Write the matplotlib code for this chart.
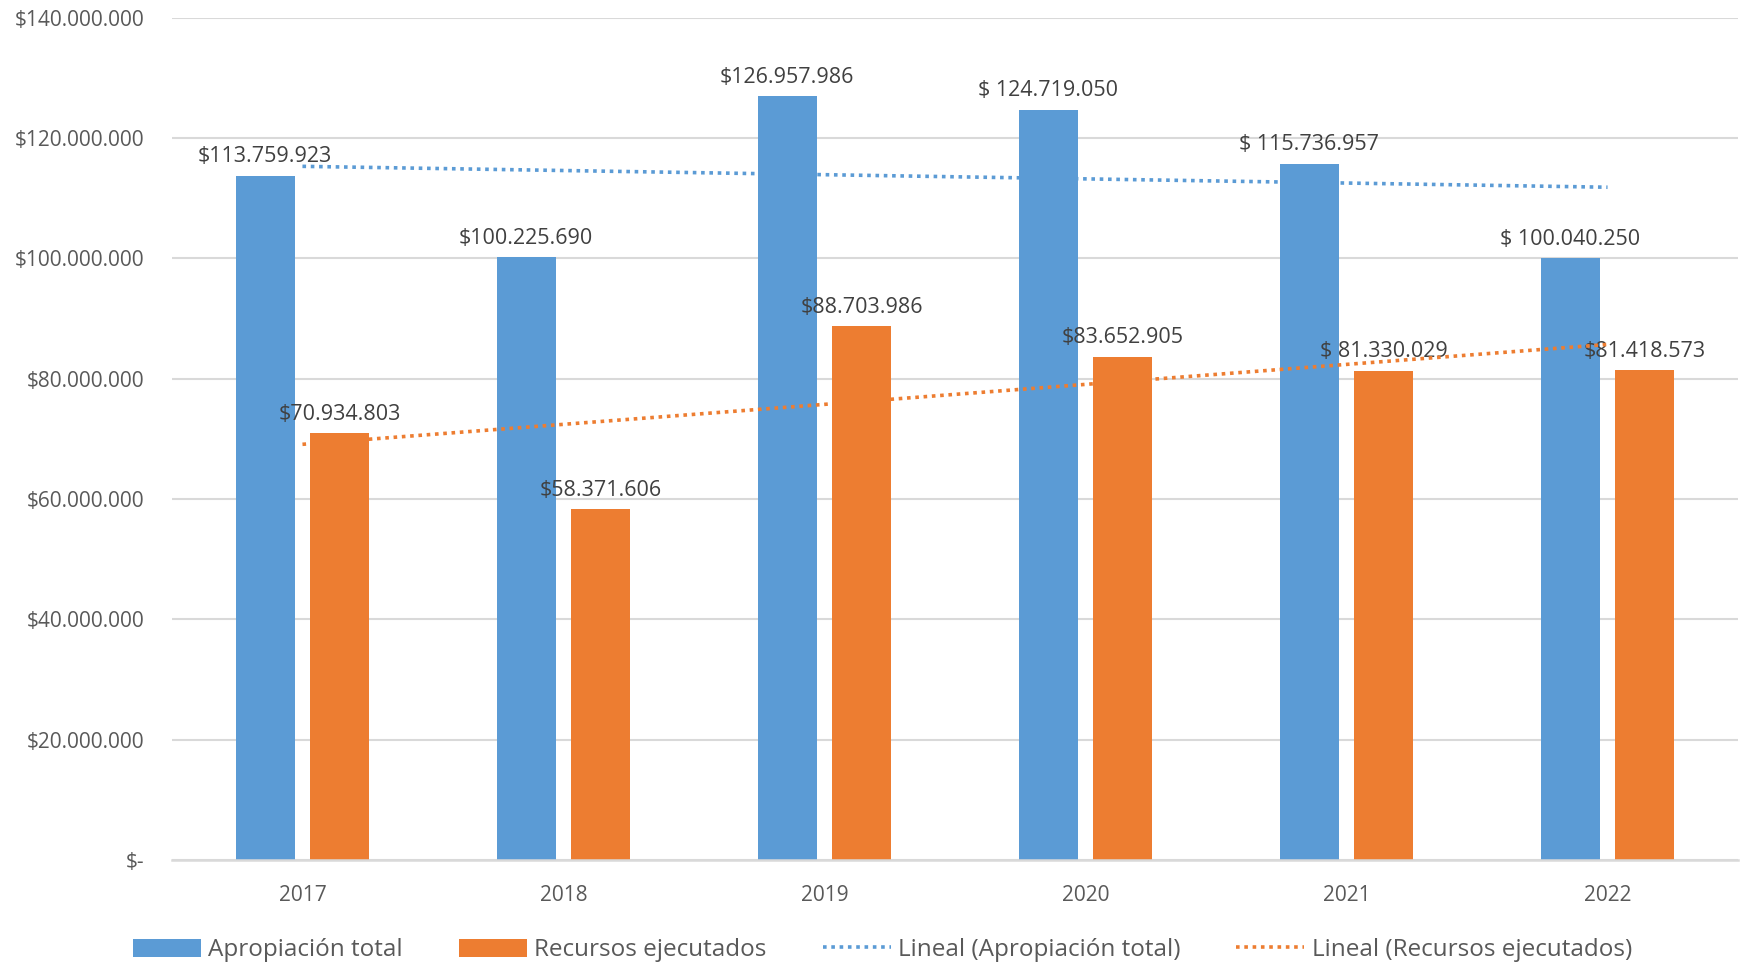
import matplotlib.pyplot as plt
import numpy as np

plt.rcParams["font.family"] = ["Open Sans", "DejaVu Sans"]

years = ["2017", "2018", "2019", "2020", "2021", "2022"]
apropiacion = [113759923, 100225690, 126957986, 124719050, 115736957, 100040250]
ejecutados = [70934803, 58371606, 88703986, 83652905, 81330029, 81418573]
labels_apropiacion = ["$113.759.923", "$100.225.690", "$126.957.986",
                      "$ 124.719.050", "$ 115.736.957", "$ 100.040.250"]
labels_ejecutados = ["$70.934.803", "$58.371.606", "$88.703.986",
                     "$83.652.905", "$ 81.330.029", "$81.418.573"]
ytick_values = [0, 20e6, 40e6, 60e6, 80e6, 100e6, 120e6, 140e6]
ytick_labels = ["$-", "$20.000.000", "$40.000.000", "$60.000.000",
                "$80.000.000", "$100.000.000", "$120.000.000", "$140.000.000"]

BLUE = "#5B9BD5"
ORANGE = "#ED7D31"
GRID = "#D9D9D9"
TXT = "#595959"

fig = plt.figure(figsize=(17.44, 9.63), dpi=100)
ax = fig.add_axes([0.0986, 0.107, 0.898, 0.8745])

x = np.arange(len(years))
w = 0.226
off = 0.143
b1 = ax.bar(x - off, apropiacion, w, color=BLUE, label="Apropiación total", zorder=2)
b2 = ax.bar(x + off, ejecutados, w, color=ORANGE, label="Recursos ejecutados", zorder=2)

# linear trendlines
trend = []
for vals, col, name in [(apropiacion, BLUE, "Lineal (Apropiación total)"),
                        (ejecutados, ORANGE, "Lineal (Recursos ejecutados)")]:
    m, b = np.polyfit(x, vals, 1)
    ln, = ax.plot(x, m * x + b, color=col, linestyle=(0, (1, 1.3)), linewidth=2.6,
                  label=name, zorder=4)
    trend.append(ln)

for i in range(len(years)):
    ax.annotate(labels_apropiacion[i], (x[i] - off, apropiacion[i]),
                xytext=(0, 6), textcoords="offset points", ha="center",
                va="bottom", fontsize=15.5, color="#404040", zorder=3)
    ax.annotate(labels_ejecutados[i], (x[i] + off, ejecutados[i]),
                xytext=(0, 6), textcoords="offset points", ha="center",
                va="bottom", fontsize=15.5, color="#404040", zorder=3)

ax.set_xlim(-0.5, 5.5)
ax.set_ylim(0, 140e6)
ax.set_xticks(x)
ax.set_xticklabels(years, fontsize=15, color=TXT)
ax.set_yticks(ytick_values)
ax.set_yticklabels(ytick_labels, fontsize=15, color=TXT)
ax.tick_params(length=0, pad=18)
ax.tick_params(axis="y", pad=20)
ax.yaxis.grid(True, color=GRID, linewidth=1.5, zorder=0)
ax.set_axisbelow(True)
for s in ["top", "right", "left"]:
    ax.spines[s].set_visible(False)
ax.spines["bottom"].set_color(GRID)
ax.spines["bottom"].set_linewidth(1.8)

fig.legend(handles=[b1, b2] + trend, loc="lower center",
           bbox_to_anchor=(0.506, -0.022), ncol=4,
           frameon=False, fontsize=17.5, labelcolor=TXT, handlelength=2.8,
           handleheight=0.8, columnspacing=2.3, handletextpad=0.3)

fig.savefig("out.png", dpi=100)
